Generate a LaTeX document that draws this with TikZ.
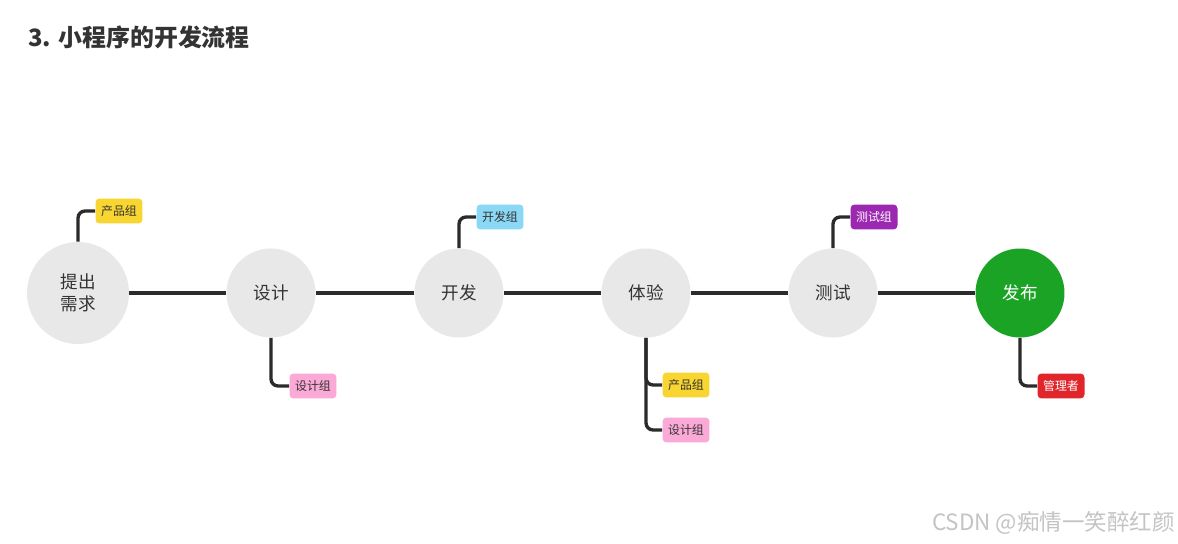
\documentclass[tikz,border=0pt]{standalone}
\usepackage{fontspec}
\setmainfont{Noto Sans CJK SC}
\usepackage{xcolor}
\usepackage{tikz}
\usetikzlibrary{positioning}
\definecolor{fInk}{HTML}{333333}
\definecolor{fLine}{HTML}{2B2B2B}
\definecolor{fGray}{HTML}{E8E8E8}
\definecolor{fGreen}{HTML}{1BA325}
\definecolor{tYellow}{HTML}{F8D531}
\definecolor{tPink}{HTML}{FBA9D6}
\definecolor{tBlue}{HTML}{8AD8F5}
\definecolor{tPurple}{HTML}{9C27B0}
\definecolor{tRed}{HTML}{E0262B}
\definecolor{wmGray}{HTML}{C4C4C4}

\begin{document}
\begin{tikzpicture}[x=0.02cm, y=-0.02cm,
          stage/.style={circle, fill=fGray, text=fInk, minimum size=1.78cm, inner sep=0pt,
            font=\fontsize{10}{12.5}\selectfont, align=center},
          role/.style={rounded corners=2.3pt, minimum width=0.94cm, minimum height=0.5cm,
            inner sep=1pt, text=fInk, font=\fontsize{6.8}{7.5}\selectfont},
          link/.style={draw=fLine, line width=1.9pt},
          branch/.style={link, rounded corners=4pt}]
        \useasboundingbox[fill=white] (0,0) rectangle (1178,544);
        \node[anchor=west, inner sep=0pt, text=fInk, font=\fontsize{13.6}{16}\selectfont\bfseries] (title) at (28,37) {3. 小程序的开发流程};
        % stages
        \node[stage, minimum size=2.04cm] (need) at (78,293) {提出\\需求};
        \node[stage] (design) at (271,293) {设计};
        \node[stage] (dev) at (459,293) {开发};
        \node[stage] (exp) at (646,293) {体验};
        \node[stage] (test) at (833,293) {测试};
        \node[stage, fill=fGreen, text=white] (pub) at (1020,293) {发布};
        \draw[link] (need) -- (design) -- (dev) -- (exp) -- (test) -- (pub);
        % roles
        \node[role, fill=tYellow] (r1) at (119,211) {产品组};
        \node[role, fill=tPink] (r2) at (313,386) {设计组};
        \node[role, fill=tBlue] (r3) at (500,217) {开发组};
        \node[role, fill=tYellow] (r4) at (686,385) {产品组};
        \node[role, fill=tPink] (r5) at (686,430) {设计组};
        \node[role, fill=tPurple, text=white] (r6) at (874,217) {测试组};
        \node[role, fill=tRed, text=white] (r7) at (1061,386) {管理者};
        \draw[branch] (need.north) |- (r1.west);
        \draw[branch] (design.south) |- (r2.west);
        \draw[branch] (dev.north) |- (r3.west);
        \draw[branch] (exp.south) |- (r4.west);
        \draw[branch] (exp.south) |- (r5.west);
        \draw[branch] (test.north) |- (r6.west);
        \draw[branch] (pub.south) |- (r7.west);
        \node[anchor=east, inner sep=0pt, text=wmGray, font=\fontsize{12.8}{15}\selectfont] (mark) at (1175,523) {CSDN @痴情一笑醉红颜};
      \end{tikzpicture}
\end{document}
